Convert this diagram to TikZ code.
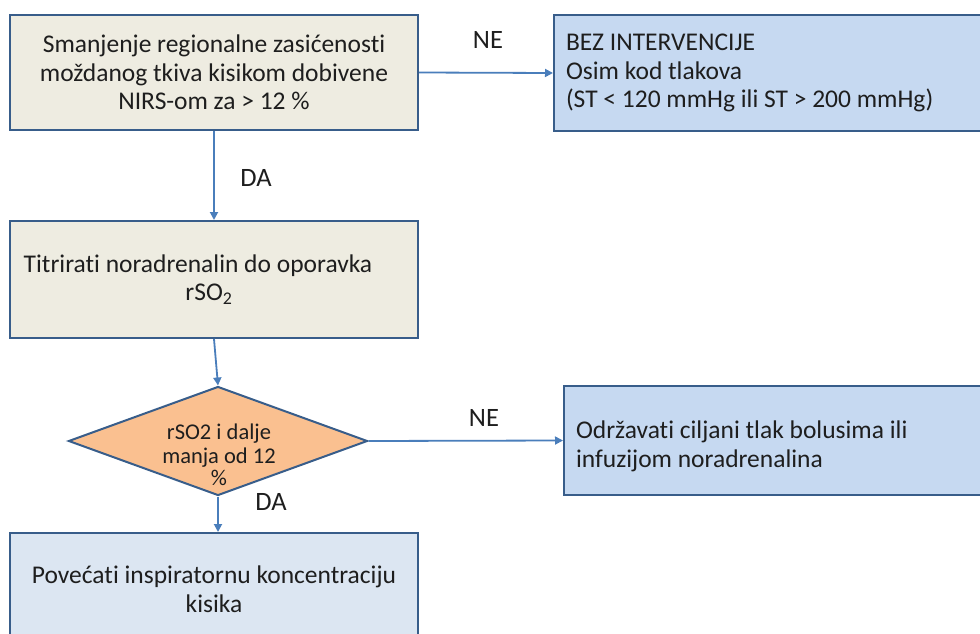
\documentclass[tikz,border=0pt]{standalone}
\usepackage{fontspec}
\setmainfont{Carlito}[Ligatures=CommonOff]
\usetikzlibrary{shapes.geometric,arrows.meta}
\definecolor{beige}{HTML}{EEECE1}
\definecolor{lblue}{HTML}{C6D9F1}
\definecolor{llblue}{HTML}{DCE6F2}
\definecolor{peach}{HTML}{FAC090}
\definecolor{bord}{HTML}{385D8A}
\definecolor{arr}{HTML}{4A7EBB}
\definecolor{txt}{HTML}{1E1E1E}
\tikzset{
  box/.style={draw=bord, line width=2pt, rectangle, inner ysep=0pt, outer sep=1pt,
    font=\fontsize{25.5}{28.5}\selectfont, text=txt},
  conn/.style={draw=arr, line width=1.8pt, -{Triangle[length=8pt,width=8pt]}},
  lbl/.style={font=\fontsize{26.5}{28}\selectfont, text=txt, inner sep=0pt},
}
\begin{document}
\begin{tikzpicture}[x=1pt,y=-1pt]
\clip (0,0) rectangle (980,634);
\fill[white] (0,0) rectangle (980,634);
\node[box, fill=beige, minimum width=408pt, minimum height=115pt, align=center] (b1) at (214,72.5)
  {Smanjenje regionalne zasićenosti\\moždanog tkiva kisikom dobivene\\NIRS-om za > 12 \%};
\node[box, fill=lblue, anchor=west, text width=413pt, inner xsep=12pt, minimum height=116pt, align=flush left] (bez) at (553,73)
  {BEZ INTERVENCIJE\\Osim kod tlakova\\(ST < 120 mmHg ili ST > 200 mmHg)};
\node[box, fill=beige, minimum width=408pt, minimum height=117pt, align=center] (b2) at (214,279.5)
  {Titrirati noradrenalin do oporavka\hspace*{32pt}\\rSO\textsubscript{2}\hspace*{10pt}};
\node[draw=bord, line width=2pt, diamond, fill=peach, minimum width=299pt, minimum height=109pt, inner sep=0pt] (d) at (218,441) {};
\node[font=\fontsize{22.5}{23.5}\selectfont, text=txt, align=center, inner sep=0pt] (dt) at (219,455)
  {rSO2 i dalje\\manja od 12\\[-1pt]\%};
\node[box, fill=lblue, anchor=west, text width=403pt, inner xsep=12pt, minimum height=109pt, align=flush left] (b3) at (563,440.5)
  {\rule{0pt}{29pt}Održavati ciljani tlak bolusima ili\\infuzijom noradrenalina};
\node[box, fill=llblue, anchor=north, minimum width=408pt, minimum height=112pt, align=center] (b4) at (214,532)
  {Povećati inspiratornu koncentraciju\\kisika};
\draw[conn] (b1.east) -- (bez.west);
\draw[conn] (b1.south) -- (b2.north);
\draw[conn] (b2.south) -- (d.north);
\draw[conn] (d.east) -- (b3.west);
\draw[conn] (d.south) -- (d.south |- b4.north);
\node[lbl] (ne1) at (488,40) {NE};
\node[lbl] (da1) at (256,178) {DA};
\node[lbl] (ne2) at (484,418) {NE};
\node[lbl] (da2) at (271,502) {DA};
\end{tikzpicture}
\end{document}
